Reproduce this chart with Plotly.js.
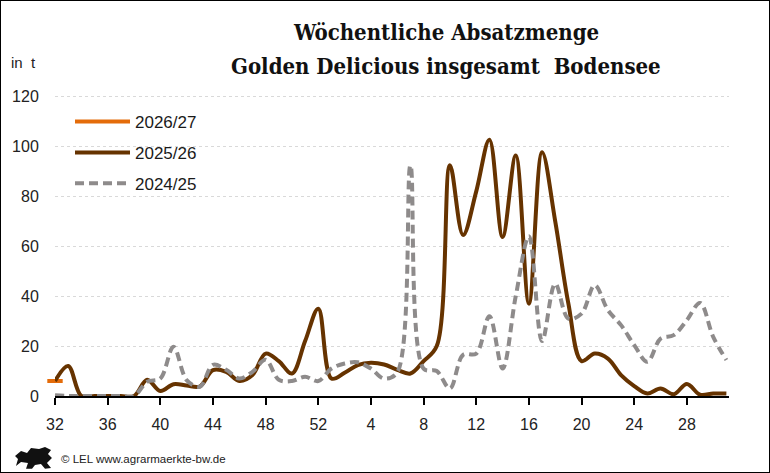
<!DOCTYPE html>
<html>
<head>
<meta charset="utf-8">
<script src="https://cdn.plot.ly/plotly-3.0.1.min.js"></script>
<style>
  html, body { margin: 0; padding: 0; background: #fff; }
  #chartdiv { width: 770px; height: 473px; box-sizing: border-box; border: 1px solid #000; }
</style>
</head>
<body>
<div id="chartdiv"></div>
<script>
// Wirtschaftsjahr KW 32 .. KW 31
const weeks = ['32','33','34','35','36','37','38','39','40','41','42','43','44','45','46','47','48','49','50','51','52',
  '1','2','3','4','5','6','7','8','9','10','11','12','13','14','15','16','17','18','19','20','21','22','23','24','25','26','27','28','29','30','31'];

const weeks2026 = ['32'];
const menge2026 = [6];

const menge2025 = [6, 12, 0, 0, 0, 0, 0, 6.5, 2, 4.7, 4.2, 3.8, 10.4, 9.7, 6, 8.4, 17, 14, 9, 22, 35,
  7, 9.3, 12.4, 13.3, 12.6, 10.5, 9, 14, 20, 92.5, 64.5, 82, 102.7, 63.7, 96.4, 37, 97.7, 70, 37, 14,
  17, 15, 8.4, 4, 1, 3, 0.7, 4.8, 0.5, 1, 1];

const menge2024 = [0.3, 0, 0, 0, 0, 0, 0, 5.7, 7, 19.7, 6.4, 3.7, 12.5, 10.5, 7, 9.7, 14.5, 6.5, 6, 7.7, 6,
  11, 13, 13.5, 11, 7, 9.5, 92.4, 11, 10, 3, 16.5, 17, 32, 11, 40, 64, 22, 45, 31, 33,
  44.4, 34.4, 28.4, 20.4, 13.7, 23, 24.4, 30.4, 37.3, 23.7, 14.4];

const seasons = ['2026/27', '2025/26', '2024/25'];
const yTicks = [0, 20, 40, 60, 80, 100, 120];

const colOrange = '#E46C0A';
const colBrown = '#663300';
const colGrey = '#8E8B8B';
const dashGrey = '9px,5px';

const titleFont = 'DejaVu Serif Condensed, DejaVu Serif, serif';
const textFont = 'Liberation Sans, Arial, sans-serif';

// plot area in div pixels
const W = 768, H = 471;
const m = {l: 54, r: 40, t: 92.5, b: 76};
const pw = W - m.l - m.r, ph = H - m.t - m.b;
function px(x){ return (x - m.l) / pw; }
function py(y){ return (H - m.b - y) / ph; }

const data = [
  {
    x: weeks2026, y: menge2026, name: seasons[0],
    mode: 'lines+markers', type: 'scatter',
    line: {color: colOrange, width: 4},
    marker: {symbol: 'line-ew-open', size: 11, line: {color: colOrange, width: 4}},
    cliponaxis: false
  },
  {
    x: weeks, y: menge2025, name: seasons[1],
    mode: 'lines', type: 'scatter',
    line: {color: colBrown, width: 4, shape: 'spline', smoothing: 1}
  },
  {
    x: weeks, y: menge2024, name: seasons[2],
    mode: 'lines', type: 'scatter',
    line: {color: colGrey, width: 4, dash: dashGrey, shape: 'spline', smoothing: 1}
  }
];

// legend drawn by hand to get the long line samples
const legendRows = [120, 151, 182];
const legendCols = [colOrange, colBrown, colGrey];
const legendDash = ['solid', 'solid', dashGrey];
const shapes = [];
const annotations = [];
for (let i = 0; i < seasons.length; i++){
  shapes.push({
    type: 'line', xref: 'paper', yref: 'paper',
    x0: px(74), x1: px(129), y0: py(legendRows[i]), y1: py(legendRows[i]),
    line: {color: legendCols[i], width: 4, dash: legendDash[i]}
  });
  annotations.push({
    xref: 'paper', yref: 'paper', x: px(132), y: py(legendRows[i] + 1),
    xanchor: 'left', yanchor: 'middle', showarrow: false,
    text: seasons[i], font: {family: textFont, size: 17, color: '#1a1a1a'}
  });
}

annotations.push(
  {xref: 'paper', yref: 'paper', x: px(445), y: py(30), xanchor: 'center', yanchor: 'middle', showarrow: false,
   text: '<b>Wöchentliche Absatzmenge</b>', font: {family: titleFont, size: 22, color: '#111'}},
  {xref: 'paper', yref: 'paper', x: px(445), y: py(64), xanchor: 'center', yanchor: 'middle', showarrow: false,
   text: '<b>Golden Delicious insgesamt  Bodensee</b>', font: {family: titleFont, size: 22, color: '#111'}},
  {xref: 'paper', yref: 'paper', x: px(8), y: py(61), xanchor: 'left', yanchor: 'middle', showarrow: false,
   text: 'in  t', font: {family: textFont, size: 15, color: '#222'}},
  {xref: 'paper', yref: 'paper', x: px(58), y: py(458), xanchor: 'left', yanchor: 'middle', showarrow: false,
   text: '© LEL www.agrarmaerkte-bw.de', font: {family: 'Liberation Sans Narrow, Liberation Sans, sans-serif', size: 11.5, color: '#222'}}
);

// small lion logo, rough silhouette
function pathFromPixels(pts){
  return 'M' + pts.map(p => px(p[0]).toFixed(4) + ',' + py(p[1]).toFixed(4)).join('L') + 'Z';
}
shapes.push({
  type: 'path', xref: 'paper', yref: 'paper', fillcolor: '#111', line: {width: 0},
  path: pathFromPixels([[14,455],[20,450],[26,452],[30,447],[38,448],[44,446],[50,449],[47,453],[51,457],
    [46,462],[50,467],[44,468],[40,463],[34,464],[31,468],[25,468],[27,462],[20,461],[15,465],[17,458]])
});

const layout = {
  width: W, height: H,
  margin: m,
  paper_bgcolor: '#fff',
  plot_bgcolor: '#fff',
  showlegend: false,
  font: {family: 'Liberation Sans Narrow, Liberation Sans, Arial, sans-serif', color: '#222'},
  xaxis: {
    type: 'category',
    categoryorder: 'array', categoryarray: weeks,
    range: [0, 51.2],
    tickmode: 'linear', tick0: 0, dtick: 4,
    ticks: 'outside', ticklen: 7, tickwidth: 2, tickcolor: '#000',
    showline: true, linecolor: '#000', linewidth: 2,
    showgrid: false, zeroline: false,
    tickfont: {size: 16, color: '#222'},
    ticklabelstandoff: 6
  },
  yaxis: {
    range: [0, 121],
    tickvals: yTicks,
    ticks: 'outside', ticklen: 12, tickcolor: 'rgba(0,0,0,0)',
    showline: false, zeroline: false,
    showgrid: true, gridcolor: '#d9d9d9', gridwidth: 1, griddash: 'dot',
    tickfont: {size: 16, color: '#222'}
  },
  shapes: shapes,
  annotations: annotations
};

Plotly.newPlot(chartdiv, data, layout, {staticPlot: true});
</script>
</body>
</html>
